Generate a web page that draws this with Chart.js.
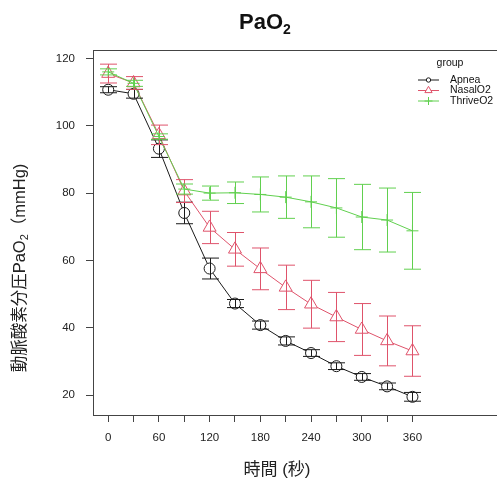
<!DOCTYPE html>
<html><head><meta charset="utf-8">
<script src="https://cdn.jsdelivr.net/npm/chart.js@4/dist/chart.umd.min.js"></script>
<style>html,body{margin:0;padding:0;background:#fff;overflow:hidden}#wrap{width:497px;height:480px;position:relative}</style>
</head><body><div id="wrap"><canvas id="c" width="497" height="480"></canvas></div>
<script>
const timesSec = [0, 30, 60, 90, 120, 150, 180, 210, 240, 270, 300, 330, 360];
const apneaMean = [110.7, 109.5, 93.2, 74.1, 57.6, 47.2, 40.8, 36.1, 32.5, 28.6, 25.4, 22.6, 19.5];
const apneaSE   = [0.9, 1.3, 2.6, 3.2, 3.1, 1.2, 1.2, 1.2, 1.0, 1.0, 1.0, 1.0, 1.3];
const nasalMean = [115.5, 112.7, 97.3, 80.6, 69.8, 63.3, 57.5, 52.0, 47.0, 43.2, 39.5, 36.1, 33.1];
const nasalSE   = [2.8, 1.9, 2.9, 3.4, 4.8, 5.0, 6.2, 6.6, 7.1, 7.3, 7.7, 7.4, 7.5];
const thriveMean = [116.0, 112.6, 96.8, 81.2, 80.0, 80.1, 79.6, 78.8, 77.4, 75.6, 72.9, 72.0, 68.8];
const thriveSE   = [0.9, 0.9, 0.8, 1.5, 2.1, 3.2, 5.2, 6.3, 7.7, 8.7, 9.7, 9.5, 11.4];
const groupNames = ['Apnea', 'NasalO2', 'ThriveO2'];
const xTickValues = [0, 30, 60, 90, 120, 150, 180, 210, 240, 270, 300, 330, 360];
const xTickLabels = ['0', '', '60', '', '120', '', '180', '', '240', '', '300', '', '360'];
const yTickValues = [20, 40, 60, 80, 100, 120];

const COLORS = ['#1a1a1a', '#DF536B', '#61D04F'];
const STYLES = ['circle', 'triangle', 'cross'];
const RADII = [5.5, 7.5, 6];
const means = [apneaMean, nasalMean, thriveMean];
const errs = [apneaSE, nasalSE, thriveSE];
const FONT = '"Liberation Sans", Arial, "Noto Sans CJK JP", sans-serif';

const datasets = groupNames.map((name, i) => ({
  label: name,
  data: timesSec.map((t, k) => ({x: t, y: means[i][k]})),
  borderColor: COLORS[i],
  backgroundColor: COLORS[i],
  borderWidth: 1,
  pointStyle: STYLES[i],
  pointRadius: RADII[i],
  pointBorderWidth: 1,
  pointBorderColor: COLORS[i],
  pointBackgroundColor: i === 2 ? COLORS[i] : 'rgba(255,255,255,1)',
  tension: 0,
  order: 3 - i
}));

const decor = {
  id: 'decor',
  afterDatasetsDraw(chart) {
    const ctx = chart.ctx, xs = chart.scales.x, ys = chart.scales.y;
    ctx.save();
    ctx.lineWidth = 1;
    [0, 1, 2].forEach(i => {
      ctx.strokeStyle = COLORS[i];
      timesSec.forEach((t, k) => {
        const x = Math.round(xs.getPixelForValue(t)) + 0.5;
        const yt = ys.getPixelForValue(means[i][k] + errs[i][k]);
        const yb = ys.getPixelForValue(means[i][k] - errs[i][k]);
        ctx.beginPath();
        ctx.moveTo(x, yt); ctx.lineTo(x, yb);
        ctx.moveTo(x - 8.5, yt); ctx.lineTo(x + 8.5, yt);
        ctx.moveTo(x - 8.5, yb); ctx.lineTo(x + 8.5, yb);
        ctx.stroke();
      });
    });
    ctx.restore();
  },
  afterDraw(chart) {
    const ctx = chart.ctx, a = chart.chartArea;
    ctx.save();
    // box
    ctx.strokeStyle = '#444';
    ctx.lineWidth = 1;
    ctx.strokeRect(a.left + 0.5, a.top + 0.5, a.right - a.left + 20, a.bottom - a.top);
    // title
    ctx.fillStyle = '#111';
    ctx.textBaseline = 'alphabetic';
    ctx.font = 'bold 22px ' + FONT;
    const w1 = ctx.measureText('PaO').width;
    ctx.font = 'bold 14px ' + FONT;
    const w2 = ctx.measureText('2').width;
    let tx = 265 - (w1 + w2) / 2;
    ctx.font = 'bold 22px ' + FONT;
    ctx.textAlign = 'left';
    ctx.fillText('PaO', tx, 29);
    ctx.font = 'bold 14px ' + FONT;
    ctx.fillText('2', tx + w1, 34);
    // x title
    ctx.font = '17px ' + FONT;
    ctx.textAlign = 'center';
    ctx.textBaseline = 'middle';
    ctx.fillStyle = '#222';
    ctx.fillText('時間 (秒)', 277, 470);
    // y title (rotated)
    ctx.save();
    ctx.translate(19, 268);
    ctx.rotate(-Math.PI / 2);
    const partA = '動脈酸素分圧PaO', partS = '2', partB = '（mmHg)';
    ctx.font = '16.5px ' + FONT;
    const wa = ctx.measureText(partA).width, wb = ctx.measureText(partB).width;
    ctx.font = '11px ' + FONT;
    const ws = ctx.measureText(partS).width;
    let px = -(wa + ws + wb) / 2;
    ctx.textAlign = 'left';
    ctx.textBaseline = 'alphabetic';
    ctx.font = '16.5px ' + FONT;
    ctx.fillText(partA, px, 6);
    ctx.font = '11px ' + FONT;
    ctx.fillText(partS, px + wa, 9);
    ctx.font = '16.5px ' + FONT;
    ctx.fillText(partB, px + wa + ws, 6);
    ctx.restore();
    // legend
    ctx.font = '10.5px ' + FONT;
    ctx.fillStyle = '#111';
    ctx.textAlign = 'center';
    ctx.textBaseline = 'middle';
    ctx.fillText('group', 450, 63);
    ctx.textAlign = 'left';
    const rowY = [80, 90.5, 101];
    const legR = [2.2, 4.2, 4];
    groupNames.forEach((name, i) => {
      const y = rowY[i];
      ctx.strokeStyle = COLORS[i];
      ctx.lineWidth = 1;
      ctx.beginPath();
      ctx.moveTo(418, y); ctx.lineTo(439, y);
      ctx.stroke();
      ctx.fillStyle = '#ffffff';
      Chart.helpers.drawPoint(ctx, {pointStyle: STYLES[i], radius: legR[i], borderWidth: 1, rotation: 0}, 428.5, y);
      ctx.fillStyle = '#111';
      ctx.fillText(name, 450, y);
    });
    ctx.restore();
  }
};

new Chart(document.getElementById('c'), {
  type: 'line',
  data: {datasets},
  plugins: [decor],
  options: {
    responsive: false,
    devicePixelRatio: 1,
    animation: false,
    layout: {padding: {top: 50, left: 0, right: 0, bottom: 0}},
    plugins: {legend: {display: false}, title: {display: false}, tooltip: {enabled: false}},
    scales: {
      x: {
        type: 'linear', min: -18, max: 450,
        afterBuildTicks: s => { s.ticks = xTickValues.map(v => ({value: v})); },
        afterFit: s => { s.height = 65; },
        border: {display: false},
        grid: {drawOnChartArea: false, drawTicks: true, tickLength: 7, color: '#444'},
        ticks: {autoSkip: false, maxRotation: 0, padding: 9, color: '#222',
          font: {family: FONT, size: 11.5},
          callback: (v, idx) => xTickLabels[idx]}
      },
      y: {
        type: 'linear', min: 14.1, max: 122.5,
        afterBuildTicks: s => { s.ticks = yTickValues.map(v => ({value: v})); },
        afterFit: s => { s.width = 93; },
        border: {display: false},
        grid: {drawOnChartArea: false, drawTicks: true, tickLength: 7, color: '#444'},
        ticks: {padding: 11, color: '#222', font: {family: FONT, size: 11.5},
          callback: v => String(v)}
      }
    }
  }
});
</script></body></html>
